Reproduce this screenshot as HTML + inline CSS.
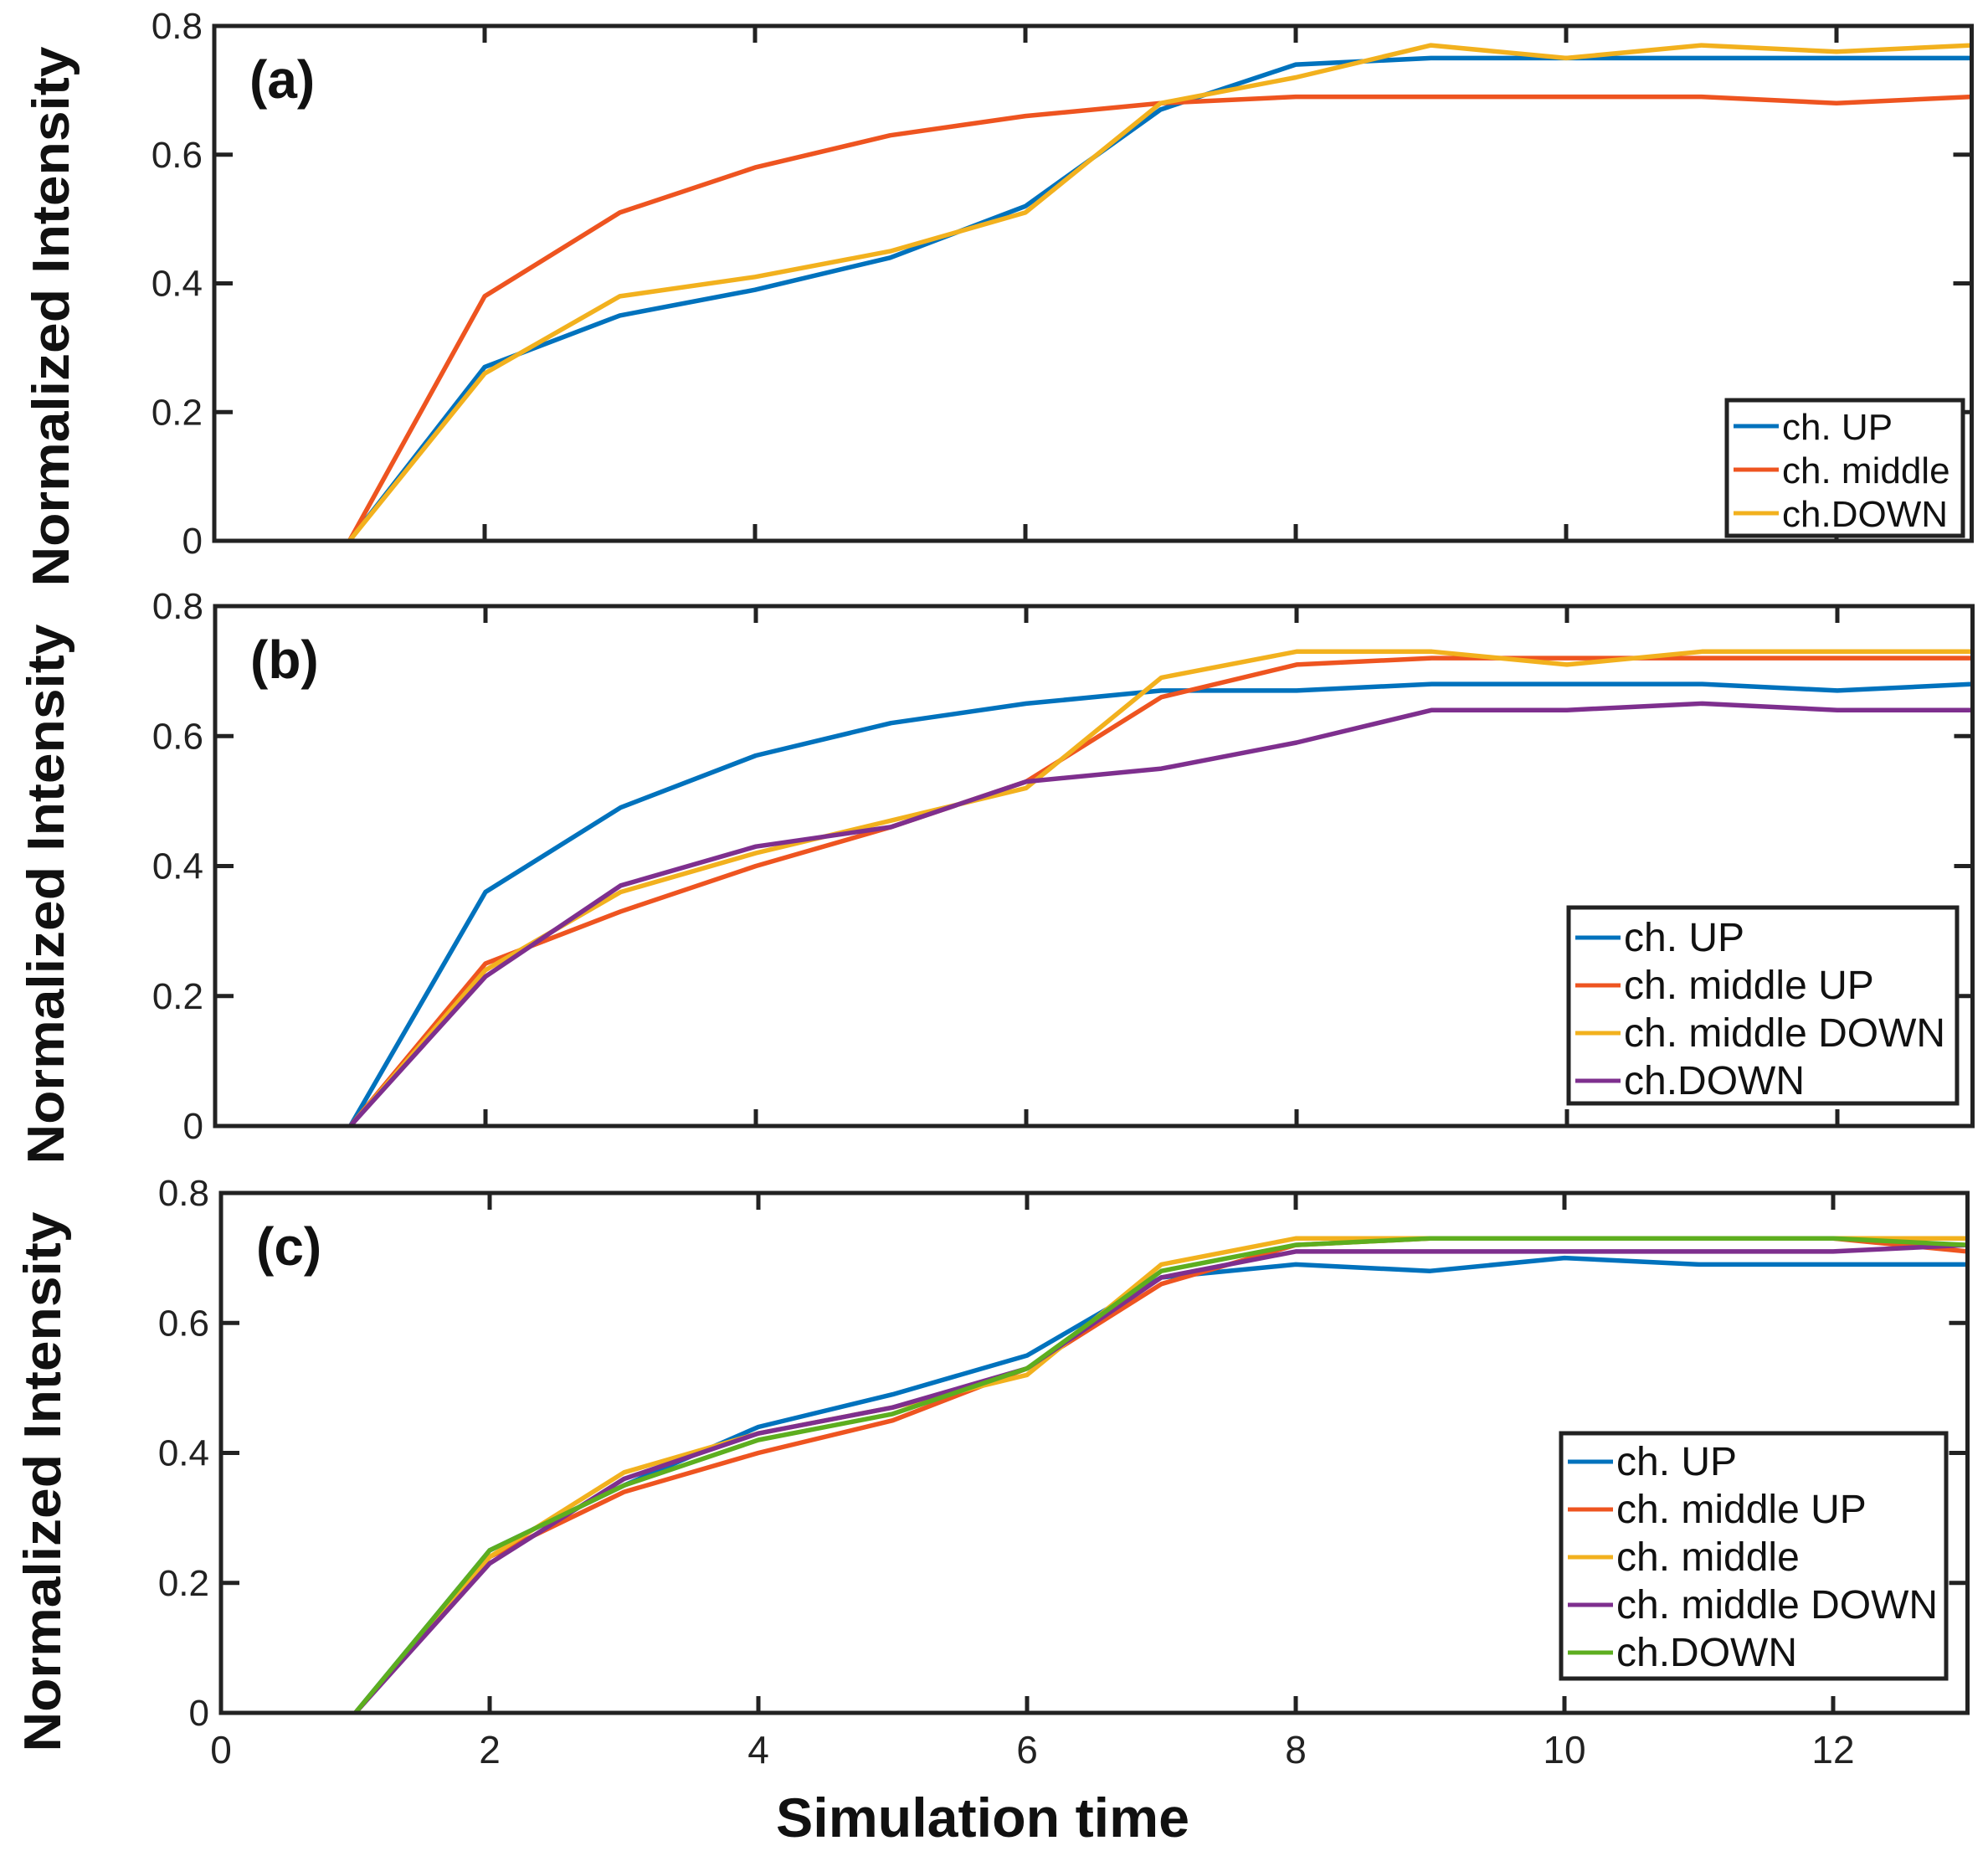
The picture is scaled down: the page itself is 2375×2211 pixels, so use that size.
<!DOCTYPE html>
<html><head><meta charset="utf-8">
<style>
html,body{margin:0;padding:0;background:#fff;}
svg{display:block;font-family:"Liberation Sans",Arial,sans-serif;}
</style></head>
<body>
<svg id="fig" width="2375" height="2211" viewBox="0 0 2375 2211" xmlns="http://www.w3.org/2000/svg"></svg>
<script>
const xValues = [1,2,3,4,5,6,7,8,9,10,11,12,13];
const xTicks = [2,4,6,8,10,12];
const xTickLabels = ["0","2","4","6","8","10","12"];
const yTicks = [0,0.2,0.4,0.6,0.8];
const yTickLabels = ["0","0.2","0.4","0.6","0.8"];

const aUp     = [0,0.27,0.35,0.39,0.44,0.52,0.67,0.74,0.75,0.75,0.75,0.75,0.75];
const aMiddle = [0,0.38,0.51,0.58,0.63,0.66,0.68,0.69,0.69,0.69,0.69,0.68,0.69];
const aDown   = [0,0.26,0.38,0.41,0.45,0.51,0.68,0.72,0.77,0.75,0.77,0.76,0.77];

const bUp         = [0,0.36,0.49,0.57,0.62,0.65,0.67,0.67,0.68,0.68,0.68,0.67,0.68];
const bMiddleUp   = [0,0.25,0.33,0.40,0.46,0.53,0.66,0.71,0.72,0.72,0.72,0.72,0.72];
const bMiddleDown = [0,0.24,0.36,0.42,0.47,0.52,0.69,0.73,0.73,0.71,0.73,0.73,0.73];
const bDown       = [0,0.23,0.37,0.43,0.46,0.53,0.55,0.59,0.64,0.64,0.65,0.64,0.64];

const cUp         = [0,0.25,0.35,0.44,0.49,0.55,0.67,0.69,0.68,0.70,0.69,0.69,0.69];
const cMiddleUp   = [0,0.24,0.34,0.40,0.45,0.53,0.66,0.72,0.73,0.73,0.73,0.73,0.71];
const cMiddle     = [0,0.24,0.37,0.43,0.47,0.52,0.69,0.73,0.73,0.73,0.73,0.73,0.73];
const cMiddleDown = [0,0.23,0.36,0.43,0.47,0.53,0.67,0.71,0.71,0.71,0.71,0.71,0.72];
const cDown       = [0,0.25,0.35,0.42,0.46,0.53,0.68,0.72,0.73,0.73,0.73,0.73,0.72];

const aNames = ["ch. UP","ch. middle","ch.DOWN"];
const bNames = ["ch. UP","ch. middle UP","ch. middle DOWN","ch.DOWN"];
const cNames = ["ch. UP","ch. middle UP","ch. middle","ch. middle DOWN","ch.DOWN"];

const C = {blue:"#0072BD", orange:"#EE5420", yellow:"#F2B11E", purple:"#7E2F8E", green:"#5DAE1F"};
const NS = "http://www.w3.org/2000/svg";
const svg = document.getElementById('fig');
function mk(tag, attrs, parent){ const e=document.createElementNS(NS,tag); for(const k in attrs) e.setAttribute(k,attrs[k]); (parent||svg).appendChild(e); return e; }

const panels = [
 {id:"a", x0:256, unit:161.5, top:31, bottom:646, label:"(a)", series:[aUp,aMiddle,aDown], colors:[C.blue,C.orange,C.yellow], names:aNames,
  leg:{x:2063,y:478,w:282,h:162,row0:509,dy:52,fs:44}, ylab:{x:82,cy:378}, xlabels:false},
 {id:"b", x0:257, unit:161.5, top:724, bottom:1345, label:"(b)", series:[bUp,bMiddleUp,bMiddleDown,bDown], colors:[C.blue,C.orange,C.yellow,C.purple], names:bNames,
  leg:{x:1874,y:1084,w:464,h:234,row0:1120,dy:57,fs:48}, ylab:{x:76,cy:1068}, xlabels:false},
 {id:"c", x0:264, unit:160.5, top:1425, bottom:2046, label:"(c)", series:[cUp,cMiddleUp,cMiddle,cMiddleDown,cDown], colors:[C.blue,C.orange,C.yellow,C.purple,C.green], names:cNames,
  leg:{x:1865,y:1712,w:460,h:293,row0:1746,dy:57,fs:48}, ylab:{x:72,cy:1770}, xlabels:true}
];

panels.forEach(p=>{
  const g = mk('g',{});
  
  
  const right = p.x0 + 13*p.unit;
  const xs = v => p.x0 + v*p.unit;
  const ys = v => p.bottom - (v/0.8)*(p.bottom-p.top);
  xTicks.forEach(t=>{
    const tb = mk('line',{x1:xs(t),x2:xs(t),y1:p.bottom,y2:p.bottom-20,stroke:"#222","stroke-width":5},g);
     
    const tt = mk('line',{x1:xs(t),x2:xs(t),y1:p.top,y2:p.top+20,stroke:"#222","stroke-width":5},g);
     
  });
  yTicks.forEach((t,i)=>{
    const tl = mk('line',{x1:p.x0,x2:p.x0+22,y1:ys(t),y2:ys(t),stroke:"#222","stroke-width":5},g);
     
    const tr = mk('line',{x1:right,x2:right-22,y1:ys(t),y2:ys(t),stroke:"#222","stroke-width":5},g);
     
    const lb = mk('text',{x:p.x0-14,y:ys(t)+15,"text-anchor":"end","font-size":44,fill:"#222"},g);
    lb.textContent = yTickLabels[i];
     
  });
  if(p.xlabels){
    [0].concat(xTicks).forEach((t,i)=>{
      const lb = mk('text',{x:xs(t),y:p.bottom+60,"text-anchor":"middle","font-size":46,fill:"#222"},g);
      lb.textContent = xTickLabels[i];
       
    });
  }
  p.series.forEach((s,k)=>{
    const pts = s.map((v,i)=>xs(xValues[i]).toFixed(1)+","+ys(v).toFixed(1)).join(" ");
    const pl = mk('polyline',{points:pts,fill:"none",stroke:p.colors[k],"stroke-width":5.5,"stroke-linejoin":"round"},g);
    
    
  });
  const box = mk('rect',{x:p.x0,y:p.top,width:right-p.x0,height:p.bottom-p.top,fill:"none",stroke:"#222","stroke-width":5},g);
   
  const pl = mk('text',{x:p.x0+42,y:p.top+86,"font-size":64,"font-weight":"bold",fill:"#111"},g);
  pl.textContent = p.label;
   
  const yl = mk('text',{x:0,y:0,transform:`translate(${p.ylab.x},${p.ylab.cy}) rotate(-90)`,"text-anchor":"middle","font-size":62,"font-weight":"bold",fill:"#111",textLength:645,lengthAdjust:"spacingAndGlyphs"},g);
  yl.textContent = "Normalized Intensity";
   
  const L = p.leg;
  const lg = mk('g',{},g);
   
  mk('rect',{x:L.x,y:L.y,width:L.w,height:L.h,fill:"#fff",stroke:"#222","stroke-width":5},lg);
  p.names.forEach((n,k)=>{
    const cy = L.row0 + k*L.dy;
    const e = mk('g',{},lg);
     
    mk('line',{x1:L.x+8,x2:L.x+62,y1:cy,y2:cy,stroke:p.colors[k],"stroke-width":5},e);
    const t = mk('text',{x:L.x+66,y:cy+16,"font-size":L.fs,fill:"#111"},e);
    t.textContent = n;
  });
});
const xt = mk('text',{x:1174,y:2194,"text-anchor":"middle","font-size":66,"font-weight":"bold",fill:"#111",textLength:494,lengthAdjust:"spacingAndGlyphs"});
xt.textContent = "Simulation time";


</script>
</body></html>
